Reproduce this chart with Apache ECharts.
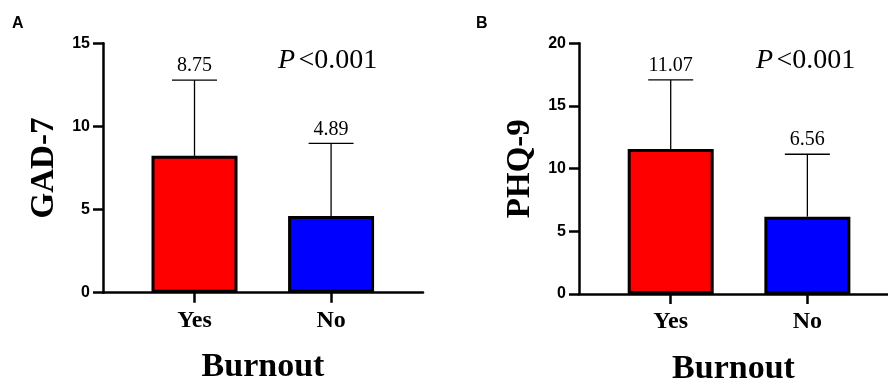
<!DOCTYPE html>
<html>
<head>
<meta charset="utf-8">
<script src="https://cdn.jsdelivr.net/npm/echarts@6/dist/echarts.min.js"></script>
<style>
  html, body { margin: 0; padding: 0; background: #fff; }
  #chart { width: 888px; height: 378px; }
</style>
</head>
<body>
<div id="chart"></div>
<script>
// data
const categories = ['Yes', 'No'];
const gadMean = [8.23, 4.61];
const gadUpper = [12.78, 8.98];
const gadLabels = ['8.75', '4.89'];
const phqMean = [11.57, 6.17];
const phqUpper = [17.08, 11.15];
const phqLabels = ['11.07', '6.56'];
const gadTicks = [0, 5, 10, 15];
const phqTicks = [0, 5, 10, 15, 20];
const pText = 'P <0.001';

const barColors = ['#ff0000', '#0000ff'];
const serif = '"Liberation Serif", "Times New Roman", serif';
const sans = '"Liberation Sans", Arial, sans-serif';

var myChart = echarts.init(document.getElementById('chart'));

function makeX(idx, min, max) {
    return {
        gridIndex: idx,
        type: 'value',
        min: min,
        max: max,
        splitLine: { show: false },
        axisLine: { onZero: false, lineStyle: { color: '#000', width: 2.5 } },
        axisTick: { customValues: [0, 1], length: 10, lineStyle: { color: '#000', width: 2.5 } },
        axisLabel: {
            customValues: [0, 1],
            formatter: v => categories[Math.round(v)],
            color: '#000',
            fontFamily: serif,
            fontWeight: 'bold',
            fontSize: 24,
            margin: 16
        },
        name: 'Burnout',
        nameLocation: 'middle',
        nameGap: 58,
        nameTextStyle: { color: '#000', fontFamily: serif, fontWeight: 'bold', fontSize: 34 }
    };
}

function makeY(idx, ticks, name) {
    return {
        gridIndex: idx,
        type: 'value',
        min: ticks[0],
        max: ticks[ticks.length - 1],
        interval: ticks[1] - ticks[0],
        splitLine: { show: false },
        axisLine: { show: true, onZero: false, lineStyle: { color: '#000', width: 2.5 } },
        axisTick: { show: true, length: 10, lineStyle: { color: '#000', width: 2.5 } },
        axisLabel: { color: '#000', fontFamily: sans, fontWeight: 'bold', fontSize: 16, margin: 13 },
        name: name,
        nameLocation: 'middle',
        nameGap: 42,
        nameTextStyle: { color: '#000', fontFamily: serif, fontWeight: 'bold', fontSize: 33 }
    };
}

function barSeries(idx, means) {
    return {
        type: 'bar',
        xAxisIndex: idx,
        yAxisIndex: idx,
        barWidth: 86,
        z: 3,
        data: means.map((m, i) => ({
            value: [i, m],
            itemStyle: { color: barColors[i], borderColor: '#000', borderWidth: 3 }
        }))
    };
}

function errSeries(idx, means, upper, labels) {
    return {
        type: 'custom',
        xAxisIndex: idx,
        yAxisIndex: idx,
        z: 2,
        data: means.map((m, i) => [i, m, upper[i]]),
        renderItem: function (params, api) {
            const i = api.value(0);
            const base = api.coord([i, api.value(1)]);
            const top = api.coord([i, api.value(2)]);
            const half = 22.5;
            return {
                type: 'group',
                children: [
                    { type: 'line', shape: { x1: base[0], y1: base[1], x2: top[0], y2: top[1] },
                      style: { stroke: '#000', lineWidth: 1.3 } },
                    { type: 'line', shape: { x1: top[0] - half, y1: top[1], x2: top[0] + half, y2: top[1] },
                      style: { stroke: '#000', lineWidth: 1.3 } },
                    { type: 'text', x: top[0], y: top[1] - 4,
                      style: { text: labels[params.dataIndex], fill: '#000', font: '20px ' + serif,
                               textAlign: 'center', textVerticalAlign: 'bottom' } }
                ]
            };
        }
    };
}

function pLabel(x, y) {
    return {
        type: 'text',
        left: x,
        top: y,
        style: {
            text: '{i|P} {n|' + pText.slice(2) + '}',
            rich: {
                i: { fontFamily: serif, fontStyle: 'italic', fontSize: 28, fill: '#000' },
                n: { fontFamily: serif, fontSize: 28, fill: '#000' }
            }
        }
    };
}

var option = {
    animation: false,
    backgroundColor: '#fff',
    grid: [
        { left: 103, top: 43.3, width: 320, height: 249.4, outerBoundsMode: 'none' },
        { left: 579, top: 43.3, right: 0, height: 250.7, outerBoundsMode: 'none' }
    ],
    xAxis: [makeX(0, -0.67, 1.673), makeX(1, -0.671, 1.59)],
    yAxis: [makeY(0, gadTicks, 'GAD-7'), makeY(1, phqTicks, 'PHQ-9')],
    graphic: [
        { type: 'text', left: 12, top: 16, style: { text: 'A', font: 'bold 16px ' + sans, fill: '#000' } },
        { type: 'text', left: 476, top: 16, style: { text: 'B', font: 'bold 16px ' + sans, fill: '#000' } },
        pLabel(278, 47),
        pLabel(756, 47)
    ],
    series: [
        errSeries(0, gadMean, gadUpper, gadLabels),
        barSeries(0, gadMean),
        errSeries(1, phqMean, phqUpper, phqLabels),
        barSeries(1, phqMean)
    ]
};

myChart.setOption(option);
</script>
</body>
</html>
